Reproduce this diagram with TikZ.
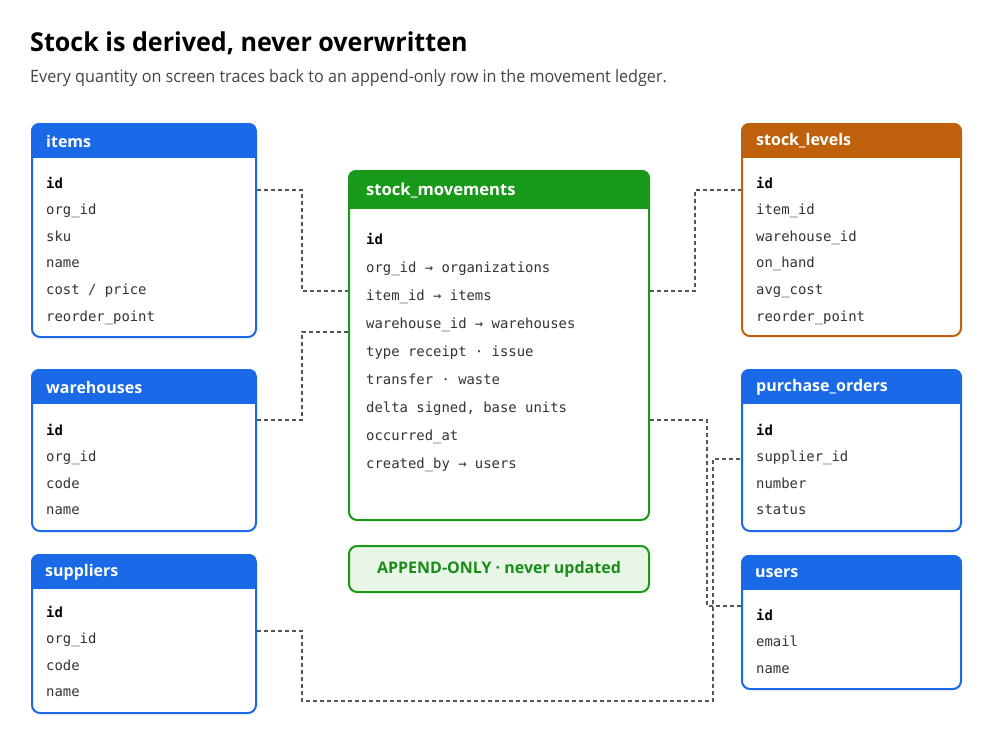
\documentclass[tikz,border=0pt]{standalone}
\usepackage{fontspec}
\setmainfont{Open Sans}
\setmonofont{DejaVu Sans Mono}
\newfontfamily\titlefont[FakeStretch=0.965]{Open Sans}
\newfontfamily\subfont[FakeStretch=0.95]{Open Sans}
\usetikzlibrary{calc}

\definecolor{tblblue}{HTML}{1A69E6}
\definecolor{tblorange}{HTML}{BF610C}
\definecolor{tblgreen}{HTML}{19991A}
\definecolor{notefill}{HTML}{E8F6E6}
\definecolor{notetext}{HTML}{1A8C1A}
\definecolor{rowgray}{HTML}{333333}
\definecolor{subgray}{HTML}{444444}
\definecolor{linkgray}{HTML}{555555}

\newcommand{\keyfield}[1]{\textcolor{black}{\bfseries #1}}

\tikzset{
  tbl/.style={draw=#1, line width=2pt, rounded corners=8pt, fill=white, anchor=north west, inner sep=0pt},
  hdr/.style={anchor=west, text=white, font=\bfseries\fontsize{16}{19}\selectfont, inner sep=0pt},
  row/.style={anchor=base west, text=rowgray, font=\ttfamily\fontsize{13.9}{16}\selectfont, inner sep=0pt},
  link/.style={draw=linkgray, line width=1.5pt, dash pattern=on 4pt off 3pt},
}

\begin{document}
\begin{tikzpicture}[x=1pt, y=-1pt]
\useasboundingbox[fill=white] (0,0) rectangle (1000,750);

% title
\node[anchor=base west, inner sep=0pt, font=\titlefont\bfseries\fontsize{26}{30}\selectfont] (title) at (30,51) {Stock is derived, never overwritten};
\node[anchor=base west, inner sep=0pt, text=subgray, font=\subfont\fontsize{17}{20}\selectfont] (subtitle) at (30,82) {Every quantity on screen traces back to an append-only row in the movement ledger.};

% tables
\node[tbl=tblblue, minimum width=224pt, minimum height=213pt] (items) at (31,123) {};
\node[tbl=tblblue, minimum width=224pt, minimum height=161pt] (warehouses) at (31,369) {};
\node[tbl=tblblue, minimum width=224pt, minimum height=158pt] (suppliers) at (31,554) {};
\node[tbl=tblgreen, minimum width=300pt, minimum height=349pt] (sm) at (348,170) {};
\node[tbl=tblorange, minimum width=219pt, minimum height=212pt] (levels) at (741,123) {};
\node[tbl=tblblue, minimum width=219pt, minimum height=161pt] (orders) at (741,369) {};
\node[tbl=tblblue, minimum width=219pt, minimum height=133pt] (users) at (741,555) {};

% header bands
\foreach \t/\c/\h in {items/tblblue/35, warehouses/tblblue/35, suppliers/tblblue/35, sm/tblgreen/39, levels/tblorange/35, orders/tblblue/35, users/tblblue/35} {
  \begin{scope}
    \clip[rounded corners=8pt] (\t.north west) rectangle (\t.south east);
    \fill[\c] (\t.north west) rectangle ($(\t.north east)+(0,\h)$);
  \end{scope}
}

\node[hdr] (items-title) at ($(items.north west)+(15,18)$) {items};
\node[hdr] (warehouses-title) at ($(warehouses.north west)+(15,18)$) {warehouses};
\node[hdr] (suppliers-title) at ($(suppliers.north west)+(14,18)$) {suppliers};
\node[hdr, font=\bfseries\fontsize{16.6}{20}\selectfont] (sm-title) at ($(sm.north west)+(18,21)$) {stock\_movements};
\node[hdr] (levels-title) at ($(levels.north west)+(15,18)$) {stock\_levels};
\node[hdr] (orders-title) at ($(orders.north west)+(15,18)$) {purchase\_orders};
\node[hdr] (users-title) at ($(users.north west)+(14,18)$) {users};

% rows
\foreach \r [count=\i] in {\keyfield{id}, org\_id, sku, name, cost / price, reorder\_point}
  \node[row] (items-\i) at (46,{188+26.6*(\i-1)}) {\r};
\foreach \r [count=\i] in {\keyfield{id}, org\_id, code, name}
  \node[row] (warehouses-\i) at (46,{435+26.6*(\i-1)}) {\r};
\foreach \r [count=\i] in {\keyfield{id}, org\_id, code, name}
  \node[row] (suppliers-\i) at (46,{617+26.6*(\i-1)}) {\r};
\foreach \r [count=\i] in {\keyfield{id}, org\_id → organizations, item\_id → items, warehouse\_id → warehouses, type receipt · issue, transfer · waste, {delta signed, base units}, occurred\_at, created\_by → users}
  \node[row] (sm-\i) at (366,{244+28*(\i-1)}) {\r};
\foreach \r [count=\i] in {\keyfield{id}, item\_id, warehouse\_id, on\_hand, avg\_cost, reorder\_point}
  \node[row] (levels-\i) at (756,{188+26.6*(\i-1)}) {\r};
\foreach \r [count=\i] in {\keyfield{id}, supplier\_id, number, status}
  \node[row] (orders-\i) at (756,{435+26.6*(\i-1)}) {\r};
\foreach \r [count=\i] in {\keyfield{id}, email, name}
  \node[row] (users-\i) at (756,{620+26.6*(\i-1)}) {\r};

% note
\node[draw=tblgreen, fill=notefill, line width=2pt, rounded corners=8pt, anchor=north west, minimum width=300pt, minimum height=46pt, text=notetext, font=\bfseries\fontsize{16}{19}\selectfont] (note) at (348,545) {APPEND-ONLY · never updated};

% links
\draw[link] ($(items.north east)+(0,67)$) -- ++(45,0) |- ($(sm.north west)+(0,121)$);
\draw[link] ($(warehouses.north east)+(0,51)$) -- ++(45,0) |- ($(sm.north west)+(0,162)$);
\draw[link] ($(sm.north east)+(0,121)$) -- ++(45,0) |- ($(levels.north west)+(0,67)$);
\draw[link] ($(sm.north east)+(0,250)$) -- ++(57,0) |- ($(users.north west)+(0,51)$);
\draw[link] ($(suppliers.north east)+(0,77)$) -- ++(45,0) -- ++(0,70) -- ++(411,0) |- ($(orders.north west)+(0,90)$);
\end{tikzpicture}
\end{document}
